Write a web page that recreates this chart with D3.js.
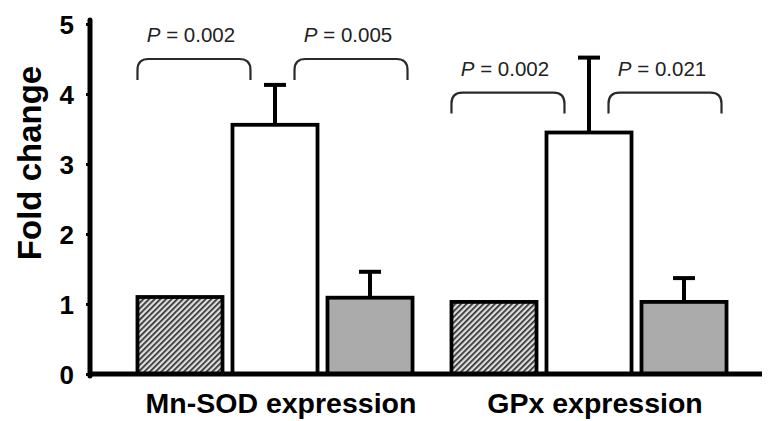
<!DOCTYPE html>
<html>
<head>
<meta charset="utf-8">
<script src="https://cdn.jsdelivr.net/npm/d3@7"></script>
<style>
  body { margin: 0; background: #fff; }
  text { font-family: "Liberation Sans", Arial, sans-serif; }
</style>
</head>
<body>
<svg width="768" height="421"></svg>
<script>
const groups = ['Mn-SOD expression', 'GPx expression'];
const conditions = ['control', 'treated', 'rescued'];
const means = [[1.1, 3.56, 1.09], [1.03, 3.45, 1.03]];
const errors = [[0, 0.57, 0.37], [0, 1.07, 0.34]];
const yTicks = [0, 1, 2, 3, 4, 5];
// comparisons: group, from condition, bracket height, label
const pGroup = [0, 0, 1, 1];
const pFrom = [0, 1, 0, 1];
const pLevel = [4.5, 4.5, 4.02, 4.02];
const pLabels = ['0.002', '0.005', '0.002', '0.021'];

const svg = d3.select('svg');
const margin = { left: 90, top: 24, bottom: 47 };
const height = +svg.attr('height');

const x0 = d3.scaleBand().domain(groups).range([118, 746]);
const x1 = d3.scaleBand().domain(conditions).range([0, x0.bandwidth()])
  .paddingInner(0.105).paddingOuter(0.205);
const y = d3.scaleLinear().domain([0, 5]).range([height - margin.bottom, margin.top]);

const defs = svg.append('defs');
const pat = defs.append('pattern')
  .attr('id', 'hatch')
  .attr('patternUnits', 'userSpaceOnUse')
  .attr('width', 4).attr('height', 4)
  .attr('patternTransform', 'rotate(45)');
pat.append('rect').attr('width', 4).attr('height', 4).attr('fill', '#dedede');
pat.append('rect').attr('width', 1.7).attr('height', 4).attr('fill', '#2e2e2e');

const fills = { control: 'url(#hatch)', treated: '#fff', rescued: '#ababab' };

const rows = [];
groups.forEach((g, gi) => conditions.forEach((c, ci) => {
  rows.push({ g, c, v: means[gi][ci], e: errors[gi][ci] });
}));

// error bars first so bars cover the lower part
const eb = svg.append('g').selectAll('g')
  .data(rows.filter(d => d.e > 0))
  .enter().append('g')
  .attr('transform', d => `translate(${x0(d.g) + x1(d.c) + x1.bandwidth() / 2},0)`);
eb.append('line')
  .attr('y1', d => y(d.v)).attr('y2', d => y(d.v + d.e))
  .attr('stroke', '#000').attr('stroke-width', 4);
eb.append('line')
  .attr('x1', -11).attr('x2', 11)
  .attr('y1', d => y(d.v + d.e)).attr('y2', d => y(d.v + d.e))
  .attr('stroke', '#000').attr('stroke-width', 4);

svg.append('g').selectAll('rect')
  .data(rows)
  .enter().append('rect')
  .attr('x', d => x0(d.g) + x1(d.c))
  .attr('y', d => y(d.v))
  .attr('width', x1.bandwidth())
  .attr('height', d => y(0) - y(d.v))
  .attr('fill', d => fills[d.c])
  .attr('stroke', '#000')
  .attr('stroke-width', 3.8);

// axes
const yAxis = d3.axisLeft(y).tickValues(yTicks).tickFormat(d3.format('d'))
  .tickSize(4).tickPadding(12);
const yAxisG = svg.append('g')
  .attr('transform', `translate(${margin.left},0)`)
  .call(yAxis);
yAxisG.select('.domain').remove();
yAxisG.selectAll('.tick line').attr('stroke-width', 3);
yAxisG.selectAll('.tick text')
  .attr('font-size', 26).attr('font-weight', 'bold')
  .attr('font-family', '"Liberation Sans", Arial, sans-serif')
  .attr('fill', '#000').attr('dy', '0.36em');

svg.append('line')
  .attr('x1', margin.left).attr('x2', margin.left)
  .attr('y1', y(5) - 4).attr('y2', y(0) + 2)
  .attr('stroke', '#000').attr('stroke-width', 5).attr('stroke-linecap', 'round');
svg.append('line')
  .attr('x1', margin.left - 2).attr('x2', 762)
  .attr('y1', y(0)).attr('y2', y(0))
  .attr('stroke', '#000').attr('stroke-width', 5);

svg.append('text')
  .attr('transform', `translate(41,${(y(0) + y(5)) / 2 - 36}) rotate(-90)`)
  .attr('text-anchor', 'middle')
  .attr('font-size', 33).attr('font-weight', 'bold')
  .text('Fold change');

svg.append('g').selectAll('text')
  .data(groups)
  .enter().append('text')
  .attr('x', d => x0(d) + x0.bandwidth() / 2 + 6)
  .attr('y', 413)
  .attr('text-anchor', 'middle')
  .attr('font-size', 28.5).attr('font-weight', 'bold')
  .text(d => d);

// p-value brackets
const brW = 113;
pLabels.forEach((lab, i) => {
  const g = groups[pGroup[i]];
  const c = conditions[pFrom[i]];
  const left = pFrom[i] === 0 ? x0(g) + x1(c) : x0(g) + x1(c) + x1.bandwidth() - 23;
  const right = left + brW;
  const top = y(pLevel[i]);
  const bot = top + 21;
  const r = 11;
  svg.append('path')
    .attr('d', `M${left},${bot} L${left},${top + r} Q${left},${top} ${left + r},${top} ` +
      `L${right - r},${top} Q${right},${top} ${right},${top + r} L${right},${bot}`)
    .attr('fill', 'none').attr('stroke', '#2a2a2a').attr('stroke-width', 2.2);
  const t = svg.append('text')
    .attr('x', (left + right) / 2 - 3)
    .attr('y', top - 17)
    .attr('text-anchor', 'middle')
    .attr('font-size', 20.5)
    .attr('fill', '#222');
  t.append('tspan').attr('font-style', 'italic').text('P');
  t.append('tspan').text(' = ' + lab);
});
</script>
</body>
</html>
